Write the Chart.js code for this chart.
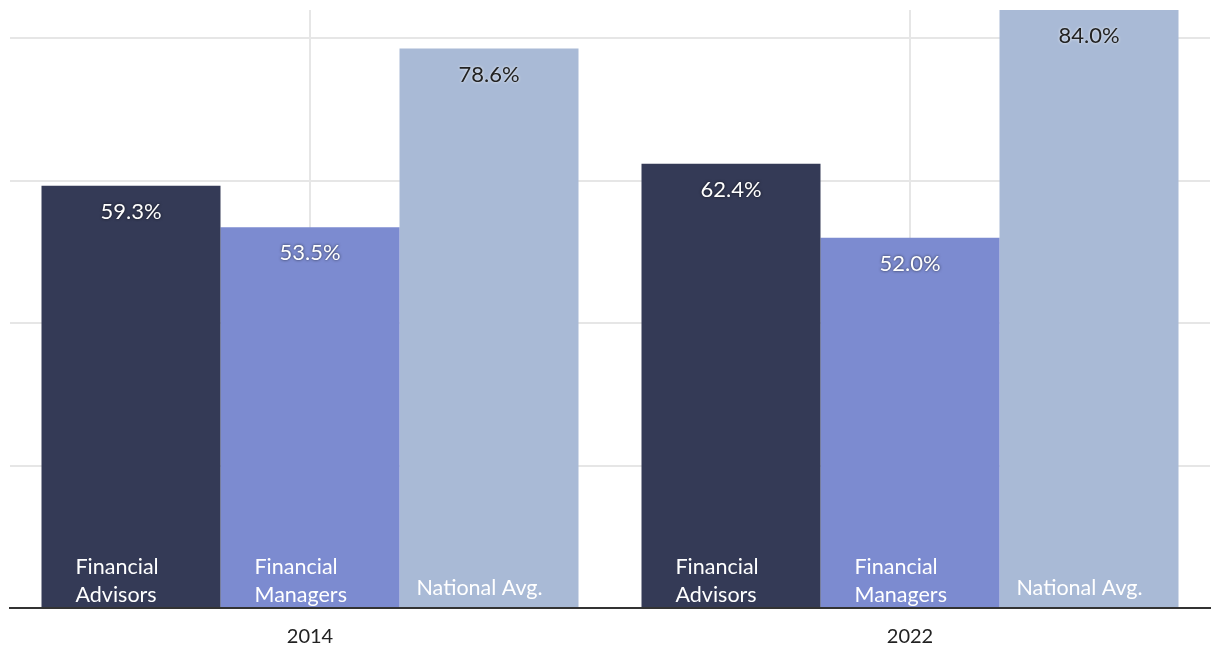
<!DOCTYPE html>
<html>
<head>
<meta charset="utf-8">
<script src="https://cdn.jsdelivr.net/npm/chart.js@4/dist/chart.umd.min.js"></script>
<style>
  html, body { margin: 0; padding: 0; background: #fff; }
  #wrap { width: 1220px; height: 666px; }
</style>
</head>
<body>
<div id="wrap"><canvas id="chart" width="1220" height="666"></canvas></div>
<script>
const years = ['2014', '2022'];
const seriesNames = [['Financial', 'Advisors'], ['Financial', 'Managers'], ['National Avg.']];
const advisors = [59.3, 62.4];
const managers = [53.5, 52.0];
const national = [78.6, 84.0];
const yTicks = [0, 20, 40, 60, 80];

const COLORS = ['#343a56', '#7c8bd0', '#a9bad6'];
const VALUE_INK = ['#fff', '#fff', '#222'];
const NAME_PAD = [34, 34, 17];
const FONT = 'Lato, "Source Sans Pro", sans-serif';

// labels drawn inside each bar: value near the top, series name near the bottom
const barLabels = {
  id: 'barLabels',
  afterDatasetsDraw(chart) {
    const ctx = chart.ctx;
    const base = chart.scales.y.getPixelForValue(0);
    chart.data.datasets.forEach((ds, i) => {
      chart.getDatasetMeta(i).data.forEach((bar, j) => {
        ctx.save();
        ctx.font = '22px ' + FONT;
        ctx.textAlign = 'center';
        ctx.textBaseline = 'middle';
        ctx.fillStyle = VALUE_INK[i];
        ctx.shadowColor = VALUE_INK[i] === '#fff' ? 'rgba(0,0,0,0.7)' : 'rgba(255,255,255,0.9)';
        ctx.shadowBlur = 3;
        ctx.fillText(ds.data[j].toFixed(1) + '%', bar.x, bar.y + 26);
        ctx.restore();

        ctx.save();
        ctx.font = '21.5px ' + FONT;
        ctx.textAlign = 'left';
        ctx.textBaseline = 'middle';
        ctx.fillStyle = '#fff';
        const lines = seriesNames[i];
        const x = bar.x - bar.width / 2 + NAME_PAD[i];
        if (lines.length === 2) {
          ctx.fillText(lines[0], x, base - 41);
          ctx.fillText(lines[1], x, base - 13);
        } else {
          ctx.fillText(lines[0], x, base - 20);
        }
        ctx.restore();
      });
    });
  }
};

new Chart(document.getElementById('chart'), {
  type: 'bar',
  data: {
    labels: years,
    datasets: [
      { label: seriesNames[0].join(' '), data: advisors, backgroundColor: COLORS[0] },
      { label: seriesNames[1].join(' '), data: managers, backgroundColor: COLORS[1] },
      { label: seriesNames[2].join(' '), data: national, backgroundColor: COLORS[2] }
    ]
  },
  options: {
    responsive: false,
    animation: false,
    layout: { padding: { left: 10, right: 10, top: 10, bottom: 0 } },
    datasets: { bar: { barPercentage: 1, categoryPercentage: 0.895 } },
    plugins: { legend: { display: false }, tooltip: { enabled: false } },
    scales: {
      x: {
        grid: { offset: false, color: '#e6e6e6', lineWidth: 2, drawTicks: false },
        border: { color: '#333', width: 2 },
        ticks: { color: '#222', padding: 17, font: { family: FONT, size: 20 } }
      },
      y: {
        min: 0,
        max: 84,
        afterBuildTicks: (s) => { s.ticks = yTicks.map(v => ({ value: v })); },
        grid: { color: '#e6e6e6', lineWidth: 2, drawTicks: false },
        border: { display: false },
        ticks: { display: false }
      }
    }
  },
  plugins: [barLabels]
});
</script>
</body>
</html>
